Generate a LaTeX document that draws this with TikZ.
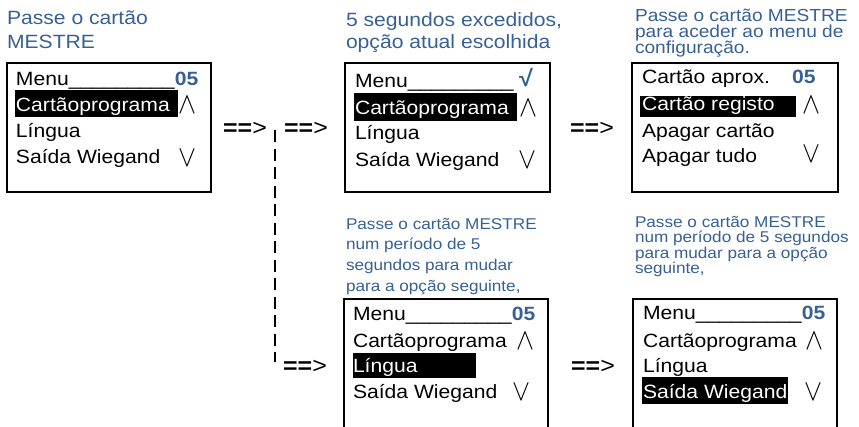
\documentclass[tikz,border=0pt]{standalone}
\usepackage{fontspec}
\setmainfont{Liberation Sans}
\newfontfamily\lab[FakeStretch=1.1]{Liberation Sans}
\definecolor{tblue}{RGB}{55,96,150}
\newcommand\wup{\scalebox{2.7}[3.0]{\smash{$\wedge$}}}
\newcommand\wdn{\scalebox{2.7}[3.0]{\smash{$\vee$}}}
\begin{document}
\begin{tikzpicture}[x=1pt,y=-1pt,
  every node/.style={inner sep=0pt, outer sep=0pt},
  screen/.style={draw, line width=1.6pt, minimum width=204pt, minimum height=129pt, anchor=center},
  item/.style={anchor=base west, font=\lab\fontsize{19.2}{22}\selectfont},
  hlitem/.style={item, text=white},
  sym/.style={anchor=base, yshift=-8.3pt},
  hlbar/.style={fill=black},
  ttlA/.style={anchor=base west, text=tblue, font=\lab\fontsize{19.2}{22}\selectfont},
  ttlB/.style={anchor=base west, text=tblue, font=\lab\fontsize{17.4}{19}\selectfont},
  ttlC/.style={anchor=base west, text=tblue, font=\lab\fontsize{15.6}{18}\selectfont},
  arr/.style={anchor=center, font=\lab\fontsize{22.7}{24}\selectfont},
  dashline/.style={line width=2pt, dash pattern=on 12pt off 6.5pt}
]
\useasboundingbox (0,0) rectangle (859,426);

% titles
\node[ttlA] (t1a) at (7,24) {Passe o cartão};
\node[ttlA] (t1b) at (7,48) {MESTRE};
\node[ttlA] (t2a) at (346,26) {5 segundos excedidos,};
\node[ttlA] (t2b) at (346,48) {opção atual escolhida};
\node[ttlB] (t3a) at (635,21) {Passe o cartão MESTRE};
\node[ttlB] (t3b) at (635,37) {para aceder ao menu de};
\node[ttlB] (t3c) at (635,53) {configuração.};
\node[ttlC] (t4a) at (346,229) {Passe o cartão MESTRE};
\node[ttlC] (t4b) at (346,249) {num período de 5};
\node[ttlC] (t4c) at (346,270) {segundos para mudar};
\node[ttlC] (t4d) at (346,291) {para a opção seguinte,};
\node[ttlC] (t5a) at (635,227) {Passe o cartão MESTRE};
\node[ttlC] (t5b) at (635,242) {num período de 5 segundos};
\node[ttlC] (t5c) at (635,258) {para mudar para a opção};
\node[ttlC] (t5d) at (635,273) {seguinte,};

% screens
\node[screen] (s1) at (109,127.5) {};
\node[screen, minimum width=205pt] (s2) at (447.5,127.5) {};
\node[screen, minimum width=206pt] (s3) at (735,127.5) {};
\node[screen, minimum height=141pt] (s4) at (446,369.5) {};
\node[screen, minimum height=141pt] (s5) at (735,369.5) {};

% highlight bars
\fill[hlbar] (15,90) rectangle (178,117);
\fill[hlbar] (354,93) rectangle (517,121);
\fill[hlbar] (640,96) rectangle (796,117);
\fill[hlbar] (353,353) rectangle (476,378);
\fill[hlbar] (642,377) rectangle (788,404);

% screen 1
\node[item] (m1a) at (16,85) {Menu\_\_\_\_\_\_\_\_\_\textbf{\color{tblue}05}};
\node[hlitem] (m1b) at (16,111) {Cartãoprograma};
\node[item] (m1c) at (16,137) {Língua};
\node[item] (m1d) at (16,163) {Saída Wiegand};
\node[sym] (u1) at (187,105) {\wup};
\node[sym] (d1) at (187,158) {\wdn};

% screen 2
\node[item] (m2a) at (355,87) {Menu\_\_\_\_\_\_\_\_\_};
\node[anchor=center, text=tblue, font=\lab\bfseries\fontsize{23}{24}\selectfont] (ck) at (526,78) {√};
\node[hlitem] (m2b) at (355,114) {Cartãoprograma};
\node[item] (m2c) at (355,139) {Língua};
\node[item] (m2d) at (355,166) {Saída Wiegand};
\node[sym] (u2) at (528,108) {\wup};
\node[sym] (d2) at (527,160) {\wdn};

% screen 3
\node[item] (m3a) at (642,83) {Cartão aprox.};
\node[item, anchor=base west] (n3) at (792,83) {\textbf{\color{tblue}05}};
\node[hlitem] (m3b) at (642,110) {Cartão registo};
\node[item] (m3c) at (642,137) {Apagar cartão};
\node[item] (m3d) at (642,162) {Apagar tudo};
\node[sym] (u3) at (811,105) {\wup};
\node[sym] (d3) at (811,154) {\wdn};

% screen 4
\node[item] (m4a) at (353,320) {Menu\_\_\_\_\_\_\_\_\_\textbf{\color{tblue}05}};
\node[item] (m4b) at (353,347) {Cartãoprograma};
\node[hlitem] (m4c) at (353,372) {Língua};
\node[item] (m4d) at (353,398) {Saída Wiegand};
\node[sym] (u4) at (525,341.5) {\wup};
\node[sym] (d4) at (521,392.5) {\wdn};

% screen 5
\node[item] (m5a) at (643,319) {Menu\_\_\_\_\_\_\_\_\_\textbf{\color{tblue}05}};
\node[item] (m5b) at (643,347) {Cartãoprograma};
\node[item] (m5c) at (643,372) {Língua};
\node[hlitem] (m5d) at (643,398) {Saída Wiegand};
\node[sym] (u5) at (814,341.5) {\wup};
\node[sym] (d5) at (813,392) {\wdn};

% arrows
\node[arr] (a1) at (245,129) {\textbf{==}>};
\node[arr] (a2) at (306,129) {\textbf{==}>};
\node[arr] (a3) at (592,129) {\textbf{==}>};
\node[arr] (a4) at (305,367) {\textbf{==}>};
\node[arr] (a5) at (593,367) {\textbf{==}>};

% dashed branch
\coordinate (dtop) at (275,130);
\coordinate (dbot) at (275,362);
\draw[dashline] (dtop) -- (dbot);
\end{tikzpicture}
\end{document}
